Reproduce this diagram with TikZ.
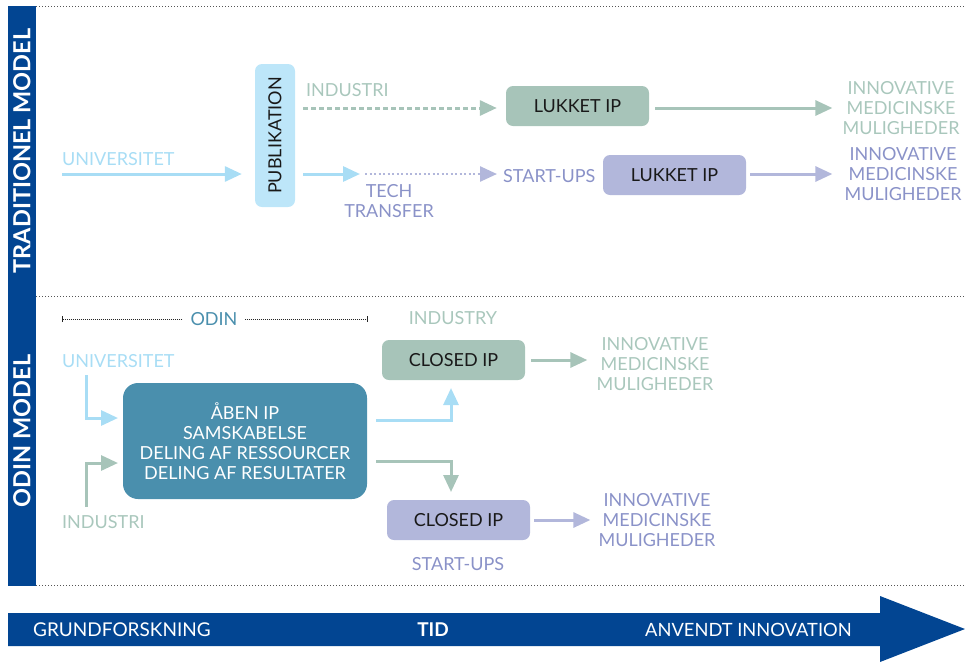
\documentclass[tikz,border=0pt]{standalone}
\usepackage{fontspec}
\setmainfont{Lato}
\usetikzlibrary{arrows.meta}
\definecolor{navy}{HTML}{024592}
\definecolor{lblue}{HTML}{A8DDF5}
\definecolor{pubfill}{HTML}{BDE6F9}
\definecolor{sage}{HTML}{A7C4B9}
\definecolor{sagetxt}{HTML}{A9C7BC}
\definecolor{lav}{HTML}{B2B7DB}
\definecolor{lavtxt}{HTML}{8A92C8}
\definecolor{odinteal}{HTML}{4A8FAD}
\definecolor{dotgray}{HTML}{555555}
\begin{document}
\begin{tikzpicture}[x=1pt,y=-1pt,
  lbl/.style={inner sep=0pt, font=\fontsize{18}{20}\selectfont},
  multi/.style={lbl, align=center},
  ipbox/.style={rounded corners=7pt, minimum width=143pt, minimum height=40pt, inner sep=0pt, font=\fontsize{18}{20}\selectfont, text=black!90},
  arr/.style={line width=3pt, -{Triangle[length=17pt,width=15pt]}},
  sep/.style={dotgray, line width=1pt, dash pattern=on 1pt off 2pt}]
\useasboundingbox (0,0) rectangle (965,662);

% side bar and separators
\fill[navy] (8,6) rectangle (36,586);
\draw[sep] (36,6) -- (965,6);
\draw[sep] (36,296) -- (965,296);
\draw[sep] (36,585) -- (965,585);
\node[rotate=90, text=white, inner sep=0pt, font=\bfseries\fontsize{23.5}{24}\selectfont] (trad) at (22,151) {TRADITIONEL MODEL};
\node[rotate=90, text=white, inner sep=0pt, font=\bfseries\fontsize{23.5}{24}\selectfont] (odinm) at (22,431) {ODIN MODEL};

% time arrow
\fill[navy] (8,613) -- (880,613) -- (880,596) -- (965,629) -- (880,662) -- (880,646) -- (8,646) -- cycle;
\node[lbl, text=white, anchor=west, font=\fontsize{19}{20}\selectfont] (grund) at (33,630) {GRUNDFORSKNING};
\node[lbl, text=white, font=\bfseries\fontsize{19}{20}\selectfont] (tid) at (433,630) {TID};
\node[lbl, text=white, anchor=west, font=\fontsize{18.3}{20}\selectfont] (anv) at (645,630) {ANVENDT INNOVATION};

% ---------- traditional model ----------
\node[lbl, text=lblue, anchor=west] (univ1) at (62,159) {UNIVERSITET};
\coordinate (u1s) at (62,174);
\node[fill=pubfill, rounded corners=7pt, minimum width=40pt, minimum height=143pt, inner sep=0pt] (publ) at (275,135.5) {};
\node[rotate=90, lbl, text=black!90] (publt) at (publ.center) {PUBLIKATION};
\draw[arr, lblue] (u1s) -- ([xshift=-13pt]publ.west |- u1s);

\node[lbl, text=sagetxt, anchor=west] (ind1) at (306,90) {INDUSTRI};
\node[ipbox, fill=sage] (lk1) at (577.5,106) {LUKKET IP};
\node[multi, text=sagetxt] (inn1) at (901,108) {INNOVATIVE\\MEDICINSKE\\MULIGHEDER};
\coordinate (d1s) at (303,108);
\draw[sage, line width=3pt, dash pattern=on 5pt off 3pt, -{Triangle[length=17pt,width=15pt]}] (d1s) -- ([xshift=-9pt]lk1.west |- d1s);
\draw[arr, sage] ([xshift=6pt]lk1.east |- d1s) -- ([xshift=-10pt]inn1.west |- d1s);

\coordinate (t1s) at (303,174);
\coordinate (t1e) at (360,174);
\draw[arr, lblue] (t1s) -- (t1e);
\node[multi, text=lavtxt] (tech) at (389,201) {TECH\\TRANSFER};
\node[lbl, text=lavtxt, anchor=west] (start1) at (503,176) {START-UPS};
\node[ipbox, fill=lav] (lk2) at (674.5,175) {LUKKET IP};
\node[multi, text=lavtxt] (inn2) at (903,174) {INNOVATIVE\\MEDICINSKE\\MULIGHEDER};
\draw[lav, line width=2.5pt, dash pattern=on 2pt off 2.5pt, -{Triangle[length=17pt,width=15pt]}] ([xshift=5pt]t1e) -- ([xshift=-6pt]start1.west |- t1e);
\draw[arr, lav] ([xshift=4pt]lk2.east |- t1e) -- ([xshift=-12pt]inn2.west |- t1e);

% ---------- ODIN model ----------
\coordinate (os) at (62,319);
\coordinate (oe) at (368,319);
\draw[black!85, line width=0.9pt, dash pattern=on 0.9pt off 1.1pt, {Bar[width=6pt,line width=0.9pt]}-{Bar[width=6pt,line width=0.9pt]}] (os) -- (oe);
\node[lbl, text=odinteal, fill=white, inner xsep=8pt, inner ysep=2pt] (odinl) at (214,319) {ODIN};
\node[lbl, text=sagetxt] (industry) at (453,318) {INDUSTRY};

\node[lbl, text=lblue, anchor=west] (univ2) at (62,361) {UNIVERSITET};
\node[lbl, text=sagetxt, anchor=west] (ind2) at (62,522) {INDUSTRI};
\node[fill=odinteal, rounded corners=15pt, minimum width=244pt, minimum height=116pt, inner sep=0pt] (obox) at (245,441) {};
\node[multi, text=white] (oboxt) at (obox.center) {ÅBEN IP\\SAMSKABELSE\\DELING AF RESSOURCER\\DELING AF RESULTATER};

\coordinate (u2s) at (86,375);
\coordinate (u2e) at (118,418);
\coordinate (i2s) at (86,507);
\coordinate (i2e) at (118,463);
\draw[arr, lblue] (u2s) |- (u2e);
\draw[arr, sage] (i2s) |- (i2e);

\node[ipbox, fill=sage] (cl1) at (453.5,360) {CLOSED IP};
\node[ipbox, fill=lav] (cl2) at (458.5,520) {CLOSED IP};
\node[multi, text=sagetxt] (inn3) at (655,364) {INNOVATIVE\\MEDICINSKE\\MULIGHEDER};
\node[multi, text=lavtxt] (inn4) at (657,520) {INNOVATIVE\\MEDICINSKE\\MULIGHEDER};
\node[lbl, text=lavtxt] (start2) at (458,564) {START-UPS};

\coordinate (c1s) at (376,420);
\coordinate (c1e) at (451,388);
\coordinate (c2s) at (376,461);
\coordinate (c2e) at (451,492);
\draw[arr, lblue] (c1s) -| (c1e);
\draw[arr, sage] (c2s) -| (c2e);
\draw[arr, sage] ([xshift=6pt]cl1.east) -- ([xshift=-9pt]inn3.west |- cl1.east);
\draw[arr, lav] ([xshift=4pt]cl2.east) -- ([xshift=-8pt]inn4.west |- cl2.east);
\end{tikzpicture}
\end{document}
